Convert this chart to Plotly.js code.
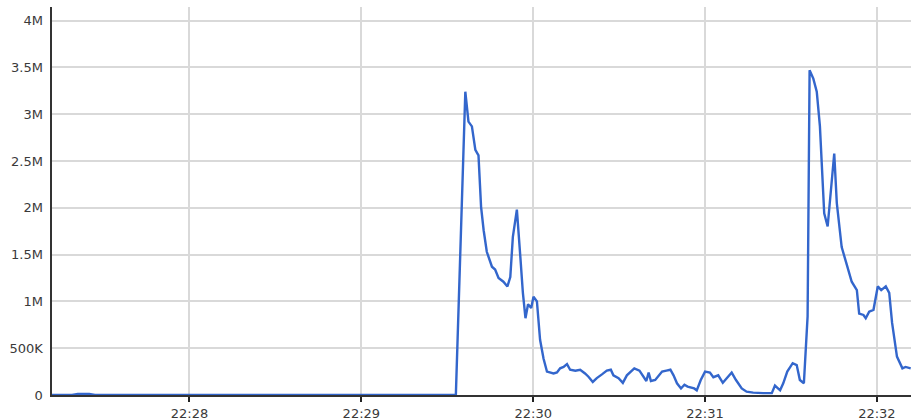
<!DOCTYPE html>
<html>
<head>
<meta charset="utf-8">
<script src="https://cdn.plot.ly/plotly-3.0.1.min.js"></script>
<style>html,body{margin:0;padding:0;background:#fff;}#chart{width:911px;height:420px;}</style>
</head>
<body>
<div id="chart"></div>
<script>
var DAY = "2024-01-01 ";
var times = [
  "22:27:12","22:27:19","22:27:21","22:27:25","22:27:27","22:29:33.0",
  "22:29:36.3","22:29:37.4","22:29:38.6","22:29:39.8","22:29:40.9","22:29:41.8","22:29:42.7","22:29:43.8",
  "22:29:45.6","22:29:46.7","22:29:47.9","22:29:49.6","22:29:51.0","22:29:52.0","22:29:52.9","22:29:54.3",
  "22:29:55.5","22:29:56.4","22:29:57.3","22:29:58.2","22:29:59.3","22:30:00.1","22:30:01.3","22:30:02.4",
  "22:30:03.6","22:30:04.8","22:30:07.1","22:30:08.3","22:30:09.4","22:30:10.6","22:30:11.8","22:30:12.9",
  "22:30:14.7","22:30:16.4","22:30:18.1","22:30:19.3","22:30:20.8","22:30:22.2","22:30:24.0","22:30:25.7",
  "22:30:27.1","22:30:28.0","22:30:29.8","22:30:31.3","22:30:32.7","22:30:35.3","22:30:37.1","22:30:38.5",
  "22:30:39.5","22:30:40.3","22:30:41.1","22:30:42.6","22:30:45.0","22:30:46.5","22:30:47.9","22:30:49.0",
  "22:30:50.2","22:30:51.6","22:30:52.8","22:30:53.9","22:30:55.1","22:30:56.2","22:30:57.1","22:30:58.5",
  "22:31:00.0","22:31:01.7","22:31:02.9","22:31:04.6","22:31:06.2","22:31:07.6","22:31:09.3","22:31:10.8",
  "22:31:12.8","22:31:14.5","22:31:16.8","22:31:20.3","22:31:23.3","22:31:24.4","22:31:26.2","22:31:27.3",
  "22:31:28.7","22:31:30.6","22:31:32.0","22:31:33.1","22:31:34.5","22:31:35.8","22:31:36.5","22:31:37.8",
  "22:31:39.0","22:31:40.1","22:31:41.6","22:31:42.8","22:31:44.2","22:31:45.1","22:31:46.0","22:31:47.7",
  "22:31:49.5","22:31:51.2","22:31:53.0","22:31:53.8","22:31:55.3","22:31:56.1","22:31:57.3","22:31:58.8",
  "22:32:00.3","22:32:01.5","22:32:03.1","22:32:04.3","22:32:05.3","22:32:07.0","22:32:08.9","22:32:10.0",
  "22:32:11.8"
];
var values = [
  0,0,10000,10000,0,0,
  3240000,2920000,2870000,2620000,2560000,2010000,1760000,1530000,
  1370000,1340000,1250000,1210000,1160000,1260000,1690000,1980000,
  1480000,1090000,820000,970000,930000,1050000,1000000,590000,
  390000,250000,230000,240000,285000,300000,330000,270000,
  260000,270000,230000,195000,140000,180000,220000,260000,
  270000,210000,180000,130000,210000,285000,260000,200000,
  150000,240000,150000,160000,250000,260000,270000,210000,
  125000,70000,110000,90000,80000,70000,50000,160000,
  250000,240000,190000,210000,130000,180000,240000,160000,
  70000,35000,25000,20000,20000,100000,50000,125000,
  250000,340000,320000,160000,125000,840000,3470000,3380000,
  3240000,2870000,1940000,1800000,2260000,2580000,2050000,1580000,
  1390000,1210000,1120000,870000,855000,820000,890000,910000,
  1160000,1120000,1160000,1090000,770000,410000,285000,300000,
  285000
];
var yTickVals = [0,500000,1000000,1500000,2000000,2500000,3000000,3500000,4000000];
var yTickText = ["0","500K","1M","1.5M","2M","2.5M","3M","3.5M","4M"];
var xTickVals = ["22:28:00","22:29:00","22:30:00","22:31:00","22:32:00"];
var xTickText = ["22:28","22:29","22:30","22:31","22:32"];

var trace = {
  x: times.map(function(t){return DAY + t;}),
  y: values,
  type: "scatter",
  mode: "lines",
  line: {color: "#3366cc", width: 2.4},
  hoverinfo: "skip"
};
var layout = {
  width: 911, height: 420,
  margin: {l: 52, r: 0, t: 7, b: 25, pad: 0},
  paper_bgcolor: "#fff", plot_bgcolor: "#fff",
  showlegend: false,
  font: {family: "DejaVu Sans", size: 13, color: "#3a3a3a"},
  xaxis: {
    type: "date",
    range: [DAY + "22:27:12", DAY + "22:32:11.9"],
    tickmode: "array",
    tickvals: xTickVals.map(function(t){return DAY + t;}),
    ticktext: xTickText,
    showgrid: true, gridcolor: "#d9d9d9", gridwidth: 2,
    showline: true, linecolor: "#333", linewidth: 2,
    ticks: "outside", ticklen: 5, tickwidth: 2, tickcolor: "#222",
    zeroline: false, fixedrange: true
  },
  yaxis: {
    range: [0, 4145000],
    tickmode: "array",
    tickvals: yTickVals,
    ticktext: yTickText,
    showgrid: true, gridcolor: "#d9d9d9", gridwidth: 2,
    showline: true, linecolor: "#333", linewidth: 2.5,
    ticks: "", ticklabelstandoff: 4,
    zeroline: false, fixedrange: true
  }
};
Plotly.newPlot("chart", [trace], layout, {displayModeBar: false, staticPlot: true});
</script>
</body>
</html>
